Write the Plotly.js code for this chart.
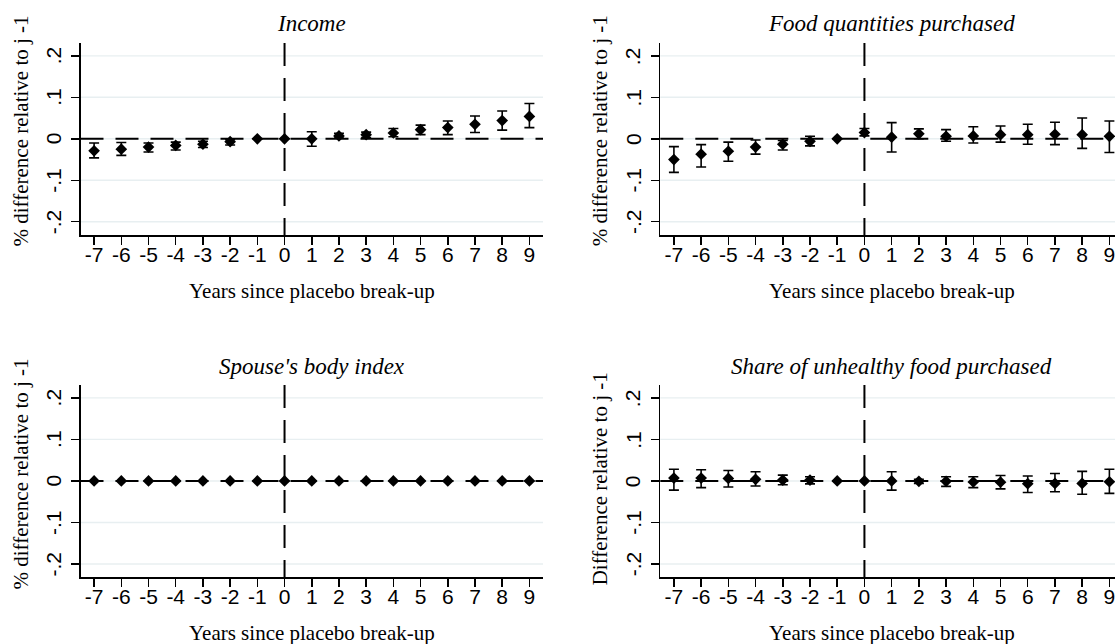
<!DOCTYPE html>
<html>
<head>
<meta charset="utf-8">
<script src="https://cdn.plot.ly/plotly-3.0.1.min.js"></script>
<style>
  html, body { margin: 0; padding: 0; overflow: hidden; background: #fff; }
  #chart { width: 1130px; height: 644px; }
</style>
</head>
<body>
<div id="chart"></div>
<script>
// ---------------- data ----------------
const years = [-7, -6, -5, -4, -3, -2, -1, 0, 1, 2, 3, 4, 5, 6, 7, 8, 9];

const incomeEst = [-0.029, -0.025, -0.020, -0.016, -0.013, -0.007, 0, 0, 0, 0.007, 0.010, 0.014, 0.022, 0.027, 0.035, 0.044, 0.054];
const incomeHi  = [-0.010, -0.009, -0.010, -0.008, -0.006, -0.002, 0, 0, 0.017, 0.013, 0.016, 0.025, 0.033, 0.043, 0.055, 0.067, 0.085];
const incomeLo  = [-0.046, -0.040, -0.032, -0.027, -0.021, -0.015, 0, 0, -0.018, 0.002, 0.003, 0.005, 0.010, 0.010, 0.015, 0.021, 0.027];

const foodEst = [-0.050, -0.037, -0.030, -0.020, -0.013, -0.006, 0, 0.015, 0.004, 0.012, 0.006, 0.007, 0.010, 0.010, 0.011, 0.010, 0.006];
const foodHi  = [-0.019, -0.014, -0.008, -0.003, -0.004, 0.006, 0, 0.025, 0.039, 0.024, 0.022, 0.029, 0.031, 0.035, 0.040, 0.050, 0.043];
const foodLo  = [-0.081, -0.068, -0.054, -0.037, -0.027, -0.017, 0, 0.007, -0.032, 0.000, -0.006, -0.010, -0.008, -0.013, -0.014, -0.023, -0.033];

const spouseEst = [0, 0, 0, 0, 0, 0, 0, 0, 0, 0, 0, 0, 0, 0, 0, 0, 0];
const spouseHi  = [0, 0, 0, 0, 0, 0, 0, 0, 0, 0, 0, 0, 0, 0, 0, 0, 0];
const spouseLo  = [0, 0, 0, 0, 0, 0, 0, 0, 0, 0, 0, 0, 0, 0, 0, 0, 0];

const shareEst = [0.007, 0.007, 0.006, 0.004, 0.002, 0.002, 0, 0, 0, -0.001, -0.001, -0.0025, -0.003, -0.0065, -0.006, -0.006, -0.002];
const shareHi  = [0.028, 0.027, 0.025, 0.022, 0.014, 0.010, 0, 0, 0.022, 0.004, 0.010, 0.010, 0.013, 0.012, 0.018, 0.023, 0.028];
const shareLo  = [-0.022, -0.016, -0.0145, -0.012, -0.009, -0.007, 0, 0, -0.022, -0.006, -0.013, -0.016, -0.019, -0.028, -0.026, -0.032, -0.030];

const xTickText = ['-7', '-6', '-5', '-4', '-3', '-2', '-1', '0', '1', '2', '3', '4', '5', '6', '7', '8', '9'];
const yTickVals = [-0.2, -0.1, 0, 0.1, 0.2];
const yTickText = ['-.2', '-.1', '0', '.1', '.2'];

const panelTitles = ['Income', 'Food quantities purchased', "Spouse's body index", 'Share of unhealthy food purchased'];
const yTitles = ['% difference relative to j -1', '% difference relative to j -1', '% difference relative to j -1', 'Difference relative to j -1'];
const xTitle = 'Years since placebo break-up';

// ---------------- layout geometry (pixels) ----------------
const W = 1130, H = 644;
const px = v => v / W;
const py = v => 1 - v / H;
const panels = [
  { est: incomeEst, hi: incomeHi, lo: incomeLo, left: 80.5, right: 543, top: 43, bottom: 235, yTitleY: 131 },
  { est: foodEst,   hi: foodHi,   lo: foodLo,   left: 660.3, right: 1123, top: 43, bottom: 235, yTitleY: 131 },
  { est: spouseEst, hi: spouseHi, lo: spouseLo, left: 80.5, right: 543, top: 385, bottom: 577.3, yTitleY: 474 },
  { est: shareEst,  hi: shareHi,  lo: shareLo,  left: 660.3, right: 1123, top: 385, bottom: 577.3, yTitleY: 479 }
];

const serif = '"Liberation Serif", "Times New Roman", serif';
const sans = '"Liberation Sans", Arial, Helvetica, sans-serif';

const traces = [];
const layout = {
  width: W, height: H,
  margin: { l: 0, r: 0, t: 0, b: 0 },
  paper_bgcolor: '#ffffff', plot_bgcolor: '#ffffff',
  showlegend: false,
  shapes: [], annotations: []
};
const gridShapes = [];
const refShapes = [];

panels.forEach((p, i) => {
  const n = i + 1;
  const xa = 'x' + (n === 1 ? '' : n), ya = 'y' + (n === 1 ? '' : n);
  const xKey = 'xaxis' + (n === 1 ? '' : n), yKey = 'yaxis' + (n === 1 ? '' : n);

  traces.push({
    type: 'scatter', mode: 'markers',
    x: years, y: p.est,
    xaxis: xa, yaxis: ya,
    marker: { symbol: 'diamond', size: 9, color: '#000000' },
    error_y: {
      type: 'data', symmetric: false,
      array: p.hi.map((h, k) => h - p.est[k]),
      arrayminus: p.lo.map((l, k) => p.est[k] - l),
      color: '#000000', thickness: 1.6, width: 5
    },
    hoverinfo: 'x+y'
  });

  layout[xKey] = {
    domain: [px(p.left), px(p.right)],
    anchor: ya,
    range: [-7.5, 9.5],
    tickmode: 'array', tickvals: years, ticktext: xTickText,
    ticks: 'outside', ticklen: 8, tickwidth: 1.5, tickcolor: '#000',
    ticklabelstandoff: -8,
    showline: true, linecolor: '#000', linewidth: 1.5,
    showgrid: false, zeroline: false,
    tickfont: { family: sans, size: 21, color: '#000' },
    fixedrange: true
  };
  layout[yKey] = {
    domain: [py(p.bottom), py(p.top)],
    anchor: xa,
    range: [-0.232, 0.231],
    tickmode: 'array', tickvals: yTickVals,
    showticklabels: false,
    ticks: 'outside', ticklen: 8, tickwidth: 1.5, tickcolor: '#000',
    showline: true, linecolor: '#000', linewidth: 1.5,
    showgrid: false, zeroline: false,
    fixedrange: true
  };

  // y tick labels, rotated, placed on the axis scale
  yTickVals.forEach((v, k) => {
    layout.annotations.push({
      xref: 'paper', yref: ya, x: px(p.left - 27), y: v,
      xanchor: 'center', yanchor: 'middle', showarrow: false, textangle: -90,
      text: yTickText[k],
      font: { family: sans, size: 21, color: '#000' }
    });
  });

  // horizontal grid lines (drawn under the reference lines)
  yTickVals.forEach(v => {
    gridShapes.push({
      type: 'line', layer: 'below',
      xref: xa + ' domain', x0: 0, x1: 1,
      yref: ya, y0: v, y1: v,
      line: { color: '#e8eff1', width: 1.4 }
    });
  });

  // reference lines
  refShapes.push({
    type: 'line', layer: 'below',
    xref: xa + ' domain', x0: 0, x1: 1,
    yref: ya, y0: 0, y1: 0,
    line: { color: '#000', width: 2, dash: '23px,12px' }
  });
  refShapes.push({
    type: 'line', layer: 'below',
    xref: xa, x0: 0, x1: 0,
    yref: ya + ' domain', y0: 1, y1: 0,
    line: { color: '#000', width: 2, dash: '23px,12px' }
  });

  const cx = (p.left + p.right) / 2;
  // panel title
  layout.annotations.push({
    xref: 'paper', yref: 'paper', x: px(cx), y: py(p.top - 19),
    xanchor: 'center', yanchor: 'middle', showarrow: false,
    text: '<i>' + panelTitles[i] + '</i>',
    font: { family: serif, size: 23, color: '#000' }
  });
  // x title
  layout.annotations.push({
    xref: 'paper', yref: 'paper', x: px(cx), y: py(p.bottom + 56),
    xanchor: 'center', yanchor: 'middle', showarrow: false,
    text: xTitle,
    font: { family: serif, size: 21, color: '#000' }
  });
  // y title
  layout.annotations.push({
    xref: 'paper', yref: 'paper', x: px(p.left - 60), y: py(p.yTitleY),
    xanchor: 'center', yanchor: 'middle', showarrow: false, textangle: -90,
    text: yTitles[i],
    font: { family: serif, size: 21, color: '#000' }
  });
});
layout.shapes = gridShapes.concat(refShapes);

Plotly.newPlot('chart', traces, layout, { displayModeBar: false, staticPlot: true });
</script>
</body>
</html>
